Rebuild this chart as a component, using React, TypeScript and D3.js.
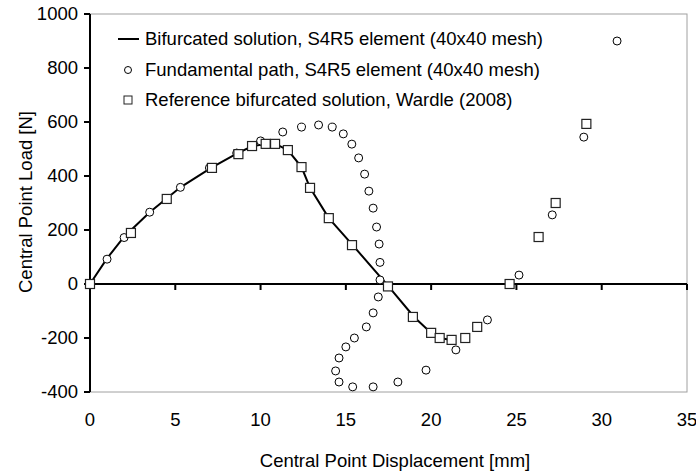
import React from "react";
import * as d3 from "d3";

const fundX = [1.0, 2.0, 3.5, 5.3, 7.0, 8.6, 10.0, 11.3, 12.4, 13.4, 14.2, 14.85, 15.35, 15.75, 16.1, 16.35, 16.6, 16.8, 16.95, 17.0, 17.0, 16.9, 16.6, 16.2, 15.5, 15.0, 14.6, 14.4, 14.6, 15.4, 16.6, 18.05, 19.7, 21.45, 23.3, 25.15, 27.1, 28.95, 30.9];
const fundY = [92, 172, 266, 358, 430, 485, 530, 563, 581, 589, 581, 556, 518, 467, 407, 344, 281, 211, 148, 80, 15, -48, -107, -159, -200, -233, -274, -322, -363, -381, -381, -363, -319, -244, -133, 33, 256, 544, 900];

const refX = [0, 2.4, 4.5, 7.15, 8.7, 9.5, 10.3, 10.85, 11.6, 12.4, 12.9, 14.0, 15.36, 17.47, 18.93, 20.0, 20.5, 21.2, 22.0, 22.7, 24.6, 26.3, 27.3, 29.1];
const refY = [0, 189, 315, 430, 481, 511, 519, 519, 496, 433, 356, 244, 144, -9, -122, -181, -200, -207, -200, -159, 0, 174, 300, 593];

const bifX = [0, 1, 2, 3.5, 5.3, 7.1, 8.6, 9.5, 10.3, 10.9, 11.6, 12.4, 12.9, 14.0, 15.4, 17.5, 19.0, 20.0, 20.5, 21.2];
const bifY = [0, 95, 175, 266, 358, 430, 483, 510, 519, 518, 496, 433, 356, 244, 144, -9, -122, -181, -200, -207];

const xTicks = [0, 5, 10, 15, 20, 25, 30, 35];
const yTicks = [-400, -200, 0, 200, 400, 600, 800, 1000];

const legendLabels = [
  "Bifurcated solution, S4R5 element (40x40 mesh)",
  "Fundamental path, S4R5 element (40x40 mesh)",
  "Reference bifurcated solution, Wardle (2008)",
];

const FONT = "'Liberation Sans', Arial, sans-serif";
const FS = 18.5;

export default function App() {
  const x = d3.scaleLinear().domain([0, 35]).range([90, 687]);
  const y = d3.scaleLinear().domain([-400, 1000]).range([392, 14]);
  const line = d3
    .line<number>()
    .x((d) => x(d))
    .y((_, i) => y(bifY[i]));
  const lineD = line(bifX) || "";
  const y0 = y(0);

  return (
    <svg
      width={696}
      height={474}
      style={{ position: "absolute", left: 0, top: 0, background: "#fff" }}
      fontFamily={FONT}
    >
      <rect x={0} y={0} width={696} height={474} fill="#fff" />
      {/* plot border */}
      <rect
        x={x(0)}
        y={y(1000)}
        width={x(35) - x(0)}
        height={y(-400) - y(1000)}
        fill="none"
        stroke="#a0a0a0"
        strokeWidth={1}
      />
      {/* y axis */}
      <line x1={x(0)} x2={x(0)} y1={y(1000)} y2={y(-400)} stroke="#000" strokeWidth={2} />
      {yTicks.map((t) => (
        <g key={"yt" + t}>
          <line x1={x(0) - 6} x2={x(0)} y1={y(t)} y2={y(t)} stroke="#000" strokeWidth={2} />
          <text x={78} y={y(t)} dy="0.35em" textAnchor="end" fontSize={FS} fill="#000">
            {t}
          </text>
        </g>
      ))}
      {/* x axis at zero */}
      <line x1={x(0)} x2={x(35)} y1={y0} y2={y0} stroke="#000" strokeWidth={2} />
      {xTicks.map((t) => (
        <g key={"xt" + t}>
          <line x1={x(t)} x2={x(t)} y1={y0} y2={y0 + 6} stroke="#000" strokeWidth={2} />
          <text x={x(t)} y={426} textAnchor="middle" fontSize={FS} fill="#000">
            {t}
          </text>
        </g>
      ))}
      {/* axis titles */}
      <text x={395} y={467} textAnchor="middle" fontSize={FS} fill="#000">
        Central Point Displacement [mm]
      </text>
      <text
        transform={`translate(32, 202) rotate(-90)`}
        textAnchor="middle"
        fontSize={FS}
        fill="#000"
      >
        Central Point Load [N]
      </text>

      {/* bifurcated line */}
      <path d={lineD} fill="none" stroke="#000" strokeWidth={2} />

      {/* fundamental path circles */}
      {fundX.map((d, i) => (
        <circle
          key={"c" + i}
          cx={x(d)}
          cy={y(fundY[i])}
          r={4}
          fill="#fff"
          stroke="#000"
          strokeWidth={1}
        />
      ))}
      {/* reference squares */}
      {refX.map((d, i) => (
        <rect
          key={"s" + i}
          x={x(d) - 4.5}
          y={y(refY[i]) - 4.5}
          width={9}
          height={9}
          fill="#fff"
          stroke="#222"
          strokeWidth={1.2}
        />
      ))}

      {/* legend */}
      <line x1={118} x2={139} y1={39} y2={39} stroke="#000" strokeWidth={2} />
      <circle cx={128} cy={70} r={3.5} fill="#fff" stroke="#000" strokeWidth={1} />
      <rect x={124} y={96} width={8} height={8} fill="#fff" stroke="#222" strokeWidth={1} />
      {legendLabels.map((l, i) => (
        <text key={l} x={145} y={39 + i * 30.5} dy="0.35em" fontSize={FS} fill="#000">
          {l}
        </text>
      ))}
    </svg>
  );
}
